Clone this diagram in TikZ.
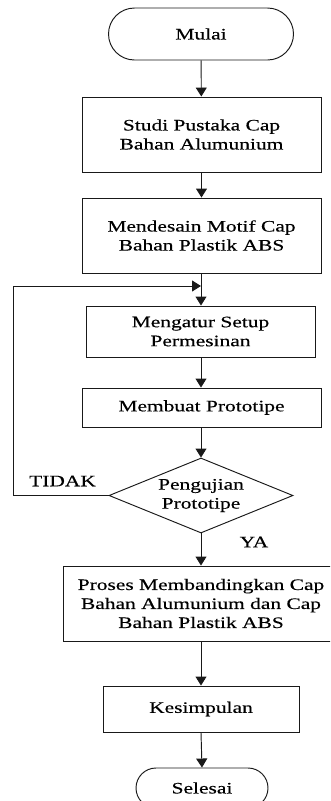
\documentclass[tikz,border=0pt]{standalone}
\usepackage{fontspec}
\setmainfont{Liberation Serif}[FakeStretch=1.34,FakeBold=0.3]
\usetikzlibrary{arrows.meta,shapes.geometric,shapes.misc}

\tikzset{
  flow/.style={draw=black!90, line width=0.95pt},
  arrowline/.style={flow, -{Triangle[width=11pt,length=9pt]}},
  txt/.style={font=\fontsize{16}{19}\selectfont, align=center, text=black},
  terminal/.style={flow, txt, rounded rectangle, inner sep=0pt},
  process/.style={flow, txt, rectangle, inner sep=0pt},
  decision/.style={flow, txt, diamond, aspect=2.45, inner sep=0pt},
  lbl/.style={txt}
}

\begin{document}
\begin{tikzpicture}[x=1pt, y=-1pt]
  \useasboundingbox (0,0) rectangle (330,801);
  \clip (0,0) rectangle (330,801);

  % start / end terminals
  \node[terminal, minimum width=185pt, minimum height=52pt] (mulai) at (201,34) {Mulai};
  \node[terminal, minimum width=132pt, minimum height=40pt] (selesai) at (202,788) {Selesai};

  % process steps
  \node[process, minimum width=239pt, minimum height=75pt] (studi) at (201.5,134.5)
    {Studi Pustaka Cap\\Bahan Alumunium};
  \node[process, minimum width=239pt, minimum height=75pt] (desain) at (201.5,235.5)
    {Mendesain Motif Cap\\Bahan Plastik ABS};
  \node[process, minimum width=229pt, minimum height=51pt] (setup) at (200.5,331.5)
    {Mengatur Setup\\Permesinan};
  \node[process, minimum width=239pt, minimum height=39pt] (buat) at (201.5,407.5)
    {Membuat Prototipe};
  \node[decision, minimum width=184pt, minimum height=75pt] (uji) at (201,495.5)
    {Pengujian\\Prototipe};
  \node[process, minimum width=276pt, minimum height=75pt] (banding) at (201,603.5)
    {Proses Membandingkan Cap\\Bahan Alumunium dan Cap\\Bahan Plastik ABS};
  \node[process, minimum width=196pt, minimum height=46pt] (simpul) at (201,709)
    {Kesimpulan};

  % branch labels
  \node[lbl] (tidak) at (62.5,481) {TIDAK};
  \node[lbl] (ya) at (254,542) {YA};

  % loop-back junction
  \coordinate (join) at (201,286);
  \coordinate (loopcorner) at (13,286);

  % main flow
  \draw[arrowline] (mulai) -- (studi);
  \draw[arrowline] (studi) -- (desain);
  \draw[arrowline] (desain.south -| join) -- (setup.north -| join);
  \draw[arrowline] (setup.south -| join) -- (buat.north -| join);
  \draw[arrowline] (buat.south -| uji) -- (uji.north);
  \draw[arrowline] (uji.south) -- (banding.north);
  \draw[arrowline] (banding.south) -- (simpul.north);
  \draw[arrowline] (simpul.south) -- (selesai.north);

  % TIDAK branch back to the setup step
  \draw[arrowline] (uji.west) -| (loopcorner) -- (join);
\end{tikzpicture}
\end{document}
